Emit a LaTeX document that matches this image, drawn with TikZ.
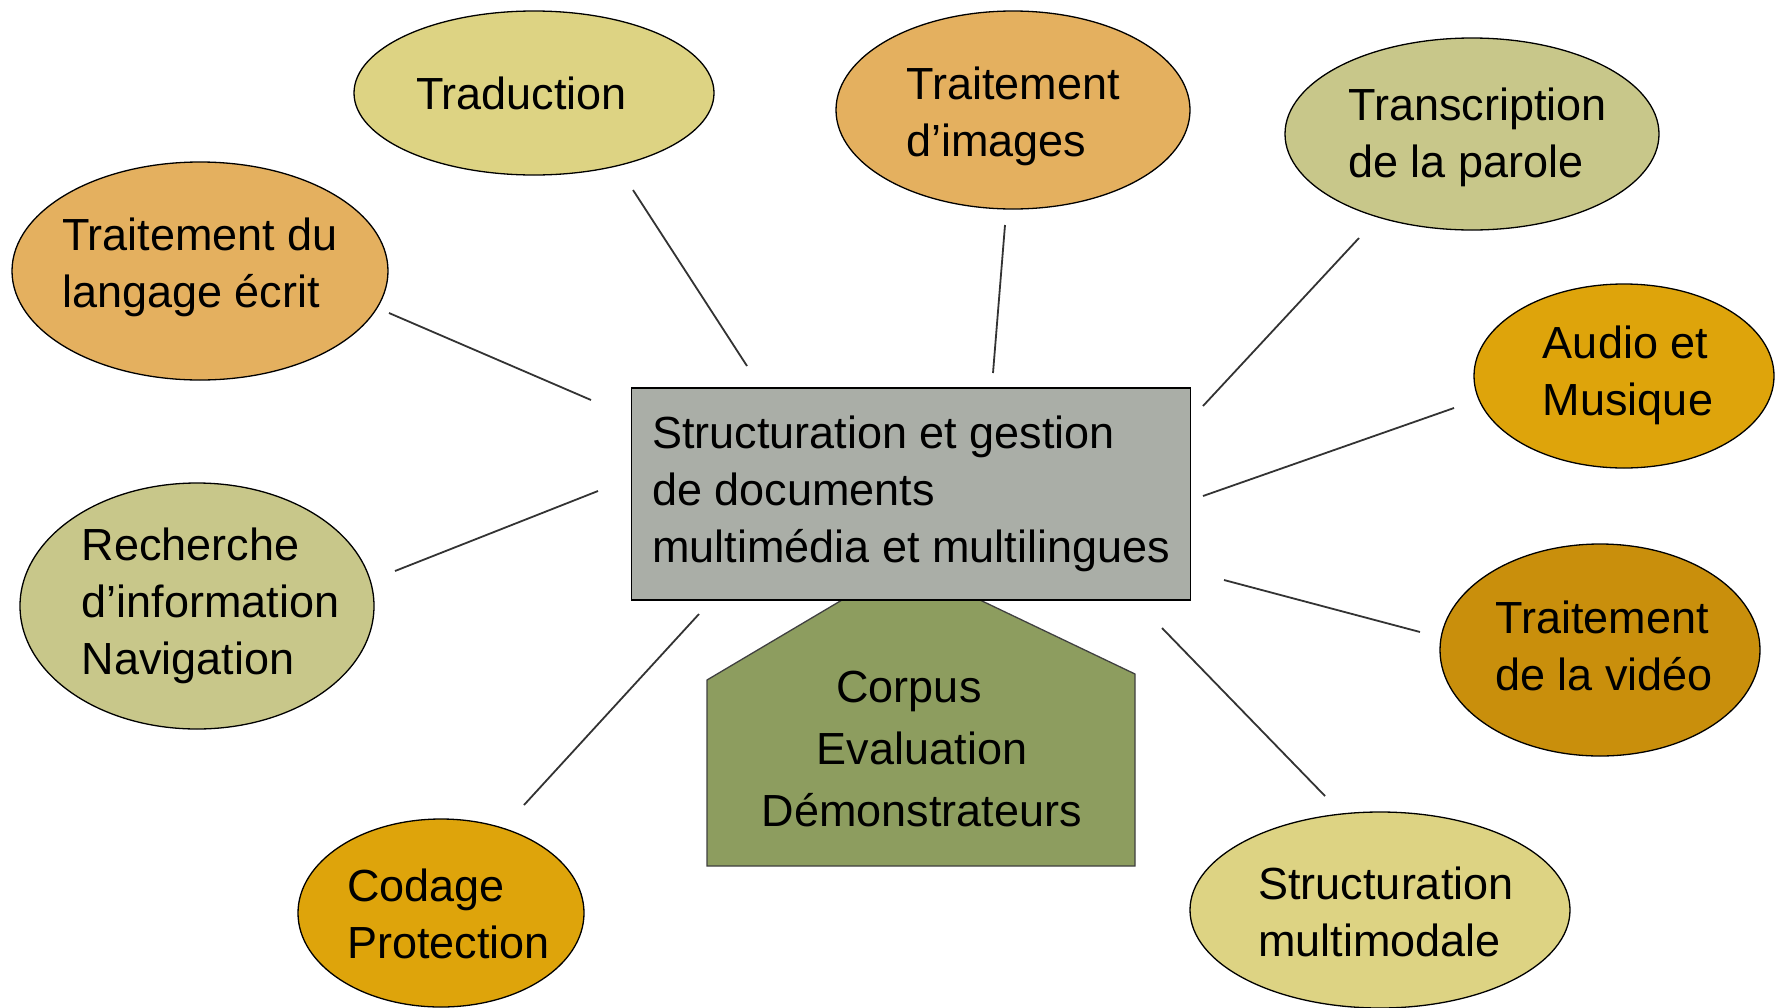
\documentclass[tikz,border=0pt]{standalone}
\usepackage{fontspec}
\setmainfont{Liberation Sans}
\usetikzlibrary{shapes.geometric}
\definecolor{cTan}{HTML}{E4B05F}
\definecolor{cLight}{HTML}{DDD383}
\definecolor{cKhaki}{HTML}{C8C78A}
\definecolor{cGold}{HTML}{DEA40B}
\definecolor{cDark}{HTML}{C98F0C}
\definecolor{cGray}{HTML}{AAAEA7}
\definecolor{cOlive}{HTML}{8D9D5F}
% #1 = twice the horizontal shift, #2 = downward shift, #3 = lines
\newcommand\mylines[3]{\makebox[0pt]{\hspace*{#1}\raisebox{-#2}[\height][\depth]{\begin{tabular}{@{}l@{}}#3\end{tabular}}}}
\begin{document}
\begin{tikzpicture}[x=1pt,y=-1pt,
  bubble/.style={ellipse, draw=black, line width=1.3pt, inner sep=0pt,
    font=\fontsize{45}{57}\selectfont},
  central/.style={rectangle, draw=black, line width=1.6pt, fill=cGray, inner sep=0pt,
    minimum width=559pt, minimum height=212pt, font=\fontsize{45}{57}\selectfont},
  house/.style={fill=cOlive, draw=black!75, line width=1.3pt},
  housetext/.style={font=\fontsize{45}{62}\selectfont, inner sep=0pt},
  link/.style={draw=black!80, line width=1.8pt}]
\useasboundingbox (0,0) rectangle (1783,1007);

% pentagon (drawn first, under the rectangle)
\draw[house] (842,600) -- (707,680) -- (707,866) -- (1135,866) -- (1135,674) -- (980,600) -- cycle;
\node[housetext] (corpus) at (922,752) {\begin{tabular}{@{}c@{}}\hspace*{-26pt}Corpus\\Evaluation\\Démonstrateurs\end{tabular}};

% central rectangle
\node[central] (center) at (911,494) {\mylines{0pt}{0pt}{Structuration et gestion\\de documents\\multimédia et multilingues}};

% ellipses
\node[bubble, fill=cLight, minimum width=360pt, minimum height=164pt] (trad) at (534,93) {\mylines{-25pt}{5pt}{Traduction}};
\node[bubble, fill=cTan, minimum width=354pt, minimum height=198pt] (images) at (1013,110) {\mylines{0pt}{7pt}{Traitement\\d’images}};
\node[bubble, fill=cKhaki, minimum width=374pt, minimum height=192pt] (parole) at (1472,134) {\mylines{11pt}{4pt}{Transcription\\de la parole}};
\node[bubble, fill=cTan, minimum width=376pt, minimum height=218pt] (ecrit) at (200,271) {\mylines{0pt}{-3pt}{Traitement du\\langage écrit}};
\node[bubble, fill=cGold, minimum width=300pt, minimum height=184pt] (audio) at (1624,376) {\mylines{8pt}{0pt}{Audio et\\Musique}};
\node[bubble, fill=cKhaki, minimum width=354pt, minimum height=246pt] (recherche) at (197,606) {\mylines{27pt}{0pt}{Recherche\\d’information\\Navigation}};
\node[bubble, fill=cDark, minimum width=320pt, minimum height=212pt] (video) at (1600,650) {\mylines{8pt}{1pt}{Traitement\\de la vidéo}};
\node[bubble, fill=cGold, minimum width=286pt, minimum height=188pt] (codage) at (441,913) {\mylines{15pt}{6pt}{Codage\\Protection}};
\node[bubble, fill=cLight, minimum width=380pt, minimum height=196pt] (multimodale) at (1380,910) {\mylines{12pt}{7pt}{Structuration\\multimodale}};

% connector end points
\coordinate (tradA) at (633,190);      \coordinate (tradB) at (747,366);
\coordinate (imagesA) at (1005,225);   \coordinate (imagesB) at (993,373);
\coordinate (paroleA) at (1359,238);   \coordinate (paroleB) at (1203,406);
\coordinate (ecritA) at (389,313);     \coordinate (ecritB) at (591,400);
\coordinate (audioA) at (1454,408);    \coordinate (audioB) at (1203,496);
\coordinate (rechA) at (395,571);      \coordinate (rechB) at (598,491);
\coordinate (videoA) at (1420,632);    \coordinate (videoB) at (1224,580);
\coordinate (codageA) at (524,805);    \coordinate (codageB) at (699,614);
\coordinate (multiA) at (1325,796);    \coordinate (multiB) at (1162,628);

\draw[link] (tradA) -- (tradB);
\draw[link] (imagesA) -- (imagesB);
\draw[link] (paroleA) -- (paroleB);
\draw[link] (ecritA) -- (ecritB);
\draw[link] (audioA) -- (audioB);
\draw[link] (rechA) -- (rechB);
\draw[link] (videoA) -- (videoB);
\draw[link] (codageA) -- (codageB);
\draw[link] (multiA) -- (multiB);
\end{tikzpicture}
\end{document}
